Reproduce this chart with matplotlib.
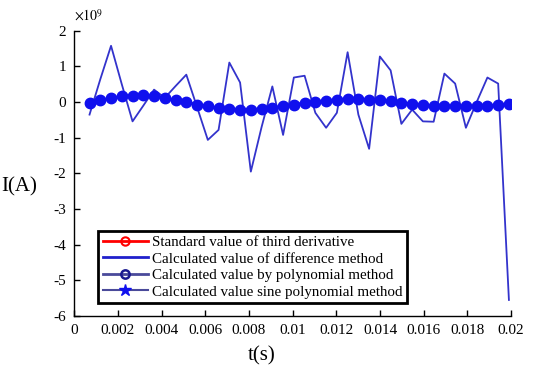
"""
Third derivative of current: difference method vs. polynomial fits
"""
import numpy as np
import matplotlib
matplotlib.use("Agg")
import matplotlib.pyplot as plt
from matplotlib.lines import Line2D
from matplotlib.ticker import FuncFormatter

plt.rcParams["font.family"] = ["Liberation Serif", "DejaVu Serif"]
plt.rcParams["mathtext.fontset"] = "stix"
plt.rcParams["axes.unicode_minus"] = False

# sample times (s), 40 samples across the window
t = np.linspace(0.0007, 0.0199, 40)

# difference method (x1e9 A)
diff_vals = [-0.35, 0.64, 1.58, 0.50, -0.54, -0.10, 0.35, 0.12, 0.45, 0.77,
             -0.14, -1.06, -0.78, 1.11, 0.55, -1.95, -0.70, 0.44, -0.92, 0.69,
             0.74, -0.30, -0.72, -0.30, 1.40, -0.35, -1.31, 1.28, 0.89, -0.61,
             -0.21, -0.54, -0.55, 0.80, 0.52, -0.72, 0.00, 0.69, 0.52, -5.55]

# standard / polynomial / sine polynomial values (x1e9 A), nearly coincident
std_vals = [-0.03, 0.05, 0.11, 0.16, 0.18, 0.19, 0.18, 0.11, 0.05, -0.01,
            -0.07, -0.12, -0.17, -0.19, -0.21, -0.21, -0.19, -0.16, -0.12, -0.07,
            -0.03, 0.01, 0.04, 0.07, 0.09, 0.09, 0.07, 0.05, 0.02, -0.03,
            -0.05, -0.08, -0.10, -0.10, -0.12, -0.12, -0.12, -0.10, -0.08, -0.05]
poly_vals = list(std_vals)
sine_vals = list(std_vals)

labels = ["Standard value of third derivative",
          "Calculated value of difference method",
          "Calculated value by polynomial method",
          "Calculated value sine polynomial method"]

fig = plt.figure(figsize=(5.38, 3.67), dpi=100)
ax = fig.add_axes([0.138, 0.139, 0.812, 0.777])

ax.plot(t, std_vals, color="red", marker="o", ms=6, mfc="none", lw=1.5, zorder=2)
ax.plot(t, diff_vals, color="#3333cc", lw=1.3, zorder=3)
ax.plot(t, poly_vals, color="#2a2a9a", marker="o", ms=6, mfc="none", lw=1.5, zorder=4)
ax.plot(t, sine_vals, color="#1010ee", marker="o", ms=7.5,
        mfc="#1010ee", mec="#1010ee", lw=2, zorder=5)

ax.set_xlim(0, 0.02)
ax.set_ylim(-6, 2)
ax.set_xticks(np.arange(0, 0.0201, 0.002))
ax.set_yticks(np.arange(-6, 2.1, 1))
ax.xaxis.set_major_formatter(FuncFormatter(lambda x, p: f"{x:g}"))
ax.yaxis.set_major_formatter(FuncFormatter(lambda y, p: f"{y:g}"))
# exponent shown above the y axis, values are in units of 1e9 A
ax.text(0.0, 1.025, r"$\times10^{9}$", transform=ax.transAxes,
        fontsize=10, ha="left", va="bottom")

for side in ["top", "right"]:
    ax.spines[side].set_visible(False)
for side in ["left", "bottom"]:
    ax.spines[side].set_linewidth(1.0)
ax.tick_params(direction="in", length=4, width=1, labelsize=11, pad=6)

ax.set_xlabel("t(s)", fontsize=15)
ax.xaxis.set_label_coords(0.43, -0.105)
ax.set_ylabel("I(A)", fontsize=15, rotation=0)
ax.yaxis.set_label_coords(-0.125, 0.42)

# legend handles matching the original figure's marker styles
handles = [
    Line2D([], [], color="red", lw=2, marker="o", ms=6, mfc="none", mew=1.5),
    Line2D([], [], color="#2020cc", lw=2),
    Line2D([], [], color="#4a4a9a", lw=2, marker="o", ms=6, mfc="none",
           mec="#1a1a90", mew=1.8),
    Line2D([], [], color="#4a4a9a", lw=1.5, marker="*", ms=9, mfc="#1010ee",
           mec="#1010ee"),
]
leg = ax.legend(handles, labels, loc="lower left", bbox_to_anchor=(0.055, 0.045),
                fontsize=10.8, handlelength=3.0, handletextpad=0.3,
                labelspacing=0.2, borderpad=0.3, fancybox=False,
                framealpha=1, borderaxespad=0)
leg.get_frame().set_edgecolor("black")
leg.get_frame().set_linewidth(2)

fig.savefig("out.png", dpi=100)
